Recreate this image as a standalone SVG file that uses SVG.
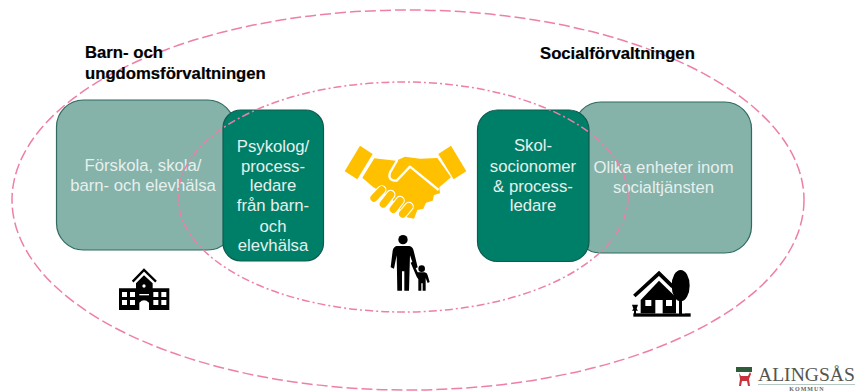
<svg xmlns="http://www.w3.org/2000/svg" width="857" height="392" viewBox="0 0 857 392">
<style>
text{font-family:"Liberation Sans",Arial,sans-serif}
.h{font-size:16.7px;font-weight:700;fill:#000;stroke:#000;stroke-width:.2}
.t{font-size:16.7px;fill:#e6f0ed;text-anchor:middle}
.l{fill:#85b2a9;stroke:#2f6b60;stroke-width:1.2}
.d{fill:#007f68;stroke:#0f5c4e;stroke-width:1.2}
.e{fill:none;stroke:#ee7fa8;stroke-width:1.5}
.y{fill:#ffc000}
.f{fill:none;stroke:#ffc000;stroke-width:22;stroke-linecap:round}
.w{fill:none;stroke:#fff;stroke-width:29;stroke-linecap:round}
text.logo{font-family:"Liberation Serif","Times New Roman",serif}
</style>
<rect width="857" height="392" fill="#fff"/>
<g id="node-forskola">
<rect class="l" x="56.500" y="100" width="178" height="150" rx="27"/>
<text class="t" x="143" y="171">Förskola, skola/</text>
<text class="t" x="143" y="191">barn- och elevhälsa</text>
</g>
<g id="node-psykolog">
<rect class="d" x="223" y="110" width="100.500" height="151" rx="18"/>
<text class="t" x="273" y="152">Psykolog/</text>
<text class="t" x="273" y="172">process-</text>
<text class="t" x="273" y="191">ledare</text>
<text class="t" x="273" y="211">från barn-</text>
<text class="t" x="273" y="232">och</text>
<text class="t" x="273" y="251">elevhälsa</text>
</g>
<g id="node-olika">
<rect class="l" x="574" y="102" width="177.500" height="151" rx="27"/>
<text class="t" x="663.500" y="173">Olika enheter inom</text>
<text class="t" x="663.500" y="193">socialtjänsten</text>
</g>
<g id="node-skol">
<rect class="d" x="477.500" y="110" width="111.500" height="151.500" rx="20"/>
<text class="t" x="533" y="151">Skol-</text>
<text class="t" x="533" y="172">socionomer</text>
<text class="t" x="533" y="192">&amp; process-</text>
<text class="t" x="533" y="211">ledare</text>
</g>
<g id="connectors">
<ellipse class="e" cx="408" cy="200" rx="396" ry="190" stroke-dasharray="11 4"/>
<ellipse class="e" cx="403" cy="197" rx="225" ry="115" stroke-width="1.2" stroke-dasharray="8 3 2 3"/>
</g>
<g id="label-barn">
<text class="h" x="85" y="58">Barn- och</text>
<text class="h" x="85" y="79">ungdomsförvaltningen</text>
</g>
<g id="label-social">
<text class="h" x="540" y="59">Socialförvaltningen</text>
</g>
<g id="icon-handshake" transform="translate(340 130) scale(.3333)">
<polygon class="y" points="60,47 98,72 52,148 14,124"/>
<polygon class="y" points="333,47 379,124 341,148 295,72"/>
<path class="y" d="M103 85 L168 92 L195 80 L240 86 L292 84 L333 142 L298 172 L300 190 L282 195 L278 212 L258 218 L250 236 L232 240 L222 266 L200 262 L150 200 L100 172 L67 143 Z"/>
<path d="M172 90 L150 128 Q142 152 170 152 L210 110 L296 180" fill="none" stroke="#fff" stroke-width="7" stroke-linejoin="round"/>
<path class="w" d="M125 180 L102 204 M152 194 L130 222 M180 212 L160 238 M207 230 L188 252"/>
<path class="f" d="M125 180 L102 204 M152 194 L130 222 M180 212 L160 238 M207 230 L188 252"/>
</g>
<g id="icon-family" transform="translate(340 130) scale(.3333)" fill="#000">
<circle cx="189" cy="329" r="14"/>
<path d="M170 348 H208 Q218 350 221 362 L233 412 L224 416 L210 376 L207 482 H193 V424 H186 V482 H172 L170 376 L162 416 L152 412 L158 362 Q161 350 170 348 Z"/>
<circle cx="245" cy="416" r="10"/>
<path d="M212 398 L218 395 L233 427 H254 Q262 428 263 436 L269 456 L263 459 L257 444 V482 H248 V460 H244 V482 H235 V448 L230 440 Z"/>
</g>
<g id="icon-school" transform="translate(100 260) scale(.3333)">
<path d="M57 85 H108 V70 L132 46 L158 70 V85 H208 V150 H57 Z" fill="#000"/>
<polyline points="98,65 132,30 168,65" fill="none" stroke="#000" stroke-width="7"/>
<g fill="#fff">
<circle cx="132" cy="78" r="5"/>
<rect x="66" y="96" width="15" height="15"/><rect x="90" y="96" width="15" height="15"/>
<rect x="66" y="120" width="15" height="15"/><rect x="90" y="120" width="15" height="15"/>
<rect x="160" y="96" width="15" height="15"/><rect x="184" y="96" width="15" height="15"/>
<rect x="160" y="120" width="15" height="15"/><rect x="184" y="120" width="15" height="15"/>
<rect x="118" y="102" width="29" height="4"/>
<path d="M118 150 V128 Q132 114 147 128 V150 Z"/>
</g>
</g>
<g id="icon-house" transform="translate(620 260) scale(.3333)">
<rect x="40" y="160" width="172" height="10" fill="#000"/>
<polyline points="43,108 117,40 158,80" fill="none" stroke="#000" stroke-width="11"/>
<path d="M62 120 L117 62 L168 112 V160 H62 Z" fill="#000"/>
<g fill="#fff"><rect x="76" y="120" width="18" height="18"/><rect x="138" y="120" width="18" height="18"/><rect x="106" y="120" width="22" height="40"/></g>
<rect x="169" y="100" width="26" height="60" fill="#fff"/>
<ellipse cx="182" cy="77" rx="27" ry="47" fill="#000"/>
<rect x="177" y="110" width="9" height="55" fill="#000"/>
<path d="M36 134 H54 L50 146 L54 152 H48 V162 H42 V152 H36 L40 146 Z" fill="#000"/>
</g>
<g id="logo">
<rect x="736" y="367" width="16" height="5" fill="#2f5d3a"/>
<path d="M739 373 L741 376 H748 L750 372 L751 374 L749 379 L750 386 H748 L747 381 H742 L741 386 H739 L740 379 Z" fill="#c8323c"/>
<text class="logo" x="758" y="381" font-size="19.600" fill="#55554d">ALINGSÅS</text>
<rect x="758" y="384" width="97" height="1" fill="#b5c9c2"/>
<text class="logo" x="807" y="391" font-size="6" font-weight="700" fill="#666" text-anchor="middle" letter-spacing="1">KOMMUN</text>
</g>
</svg>
